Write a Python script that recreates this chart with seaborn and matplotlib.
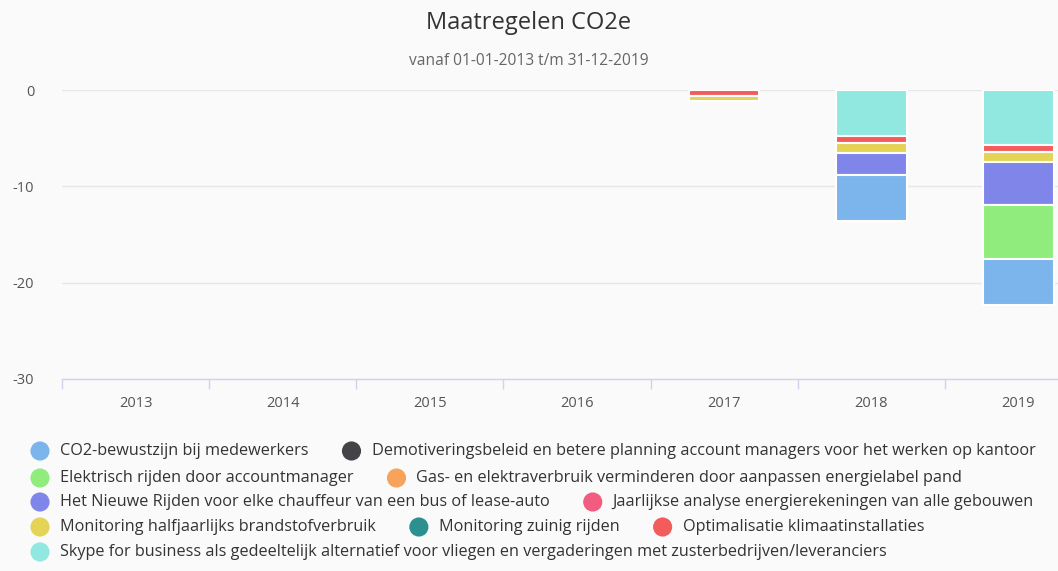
import matplotlib
matplotlib.use("Agg")
import matplotlib.pyplot as plt
import pandas as pd
import seaborn as sns

# Data
years = ["2013", "2014", "2015", "2016", "2017", "2018", "2019"]

series_names = [
    "CO2-bewustzijn bij medewerkers",
    "Demotiveringsbeleid en betere planning account managers voor het werken op kantoor",
    "Elektrisch rijden door accountmanager",
    "Gas- en elektraverbruik verminderen door aanpassen energielabel pand",
    "Het Nieuwe Rijden voor elke chauffeur van een bus of lease-auto",
    "Jaarlijkse analyse energierekeningen van alle gebouwen",
    "Monitoring halfjaarlijks brandstofverbruik",
    "Monitoring zuinig rijden",
    "Optimalisatie klimaatinstallaties",
    "Skype for business als gedeeltelijk alternatief voor vliegen en vergaderingen met zusterbedrijven/leveranciers",
]
series_colors = ["#7cb5ec", "#434348", "#90ed7d", "#f7a35c", "#8085e9",
                 "#f15c80", "#e4d354", "#2b908f", "#f45b5b", "#91e8e1"]

co2_bewustzijn = [0, 0, 0, 0, 0, -4.78, -4.85]
demotivering = [0, 0, 0, 0, 0, 0, 0]
elektrisch_rijden = [0, 0, 0, 0, 0, 0, -5.54]
gas_elektra = [0, 0, 0, 0, 0, 0, 0]
nieuwe_rijden = [0, 0, 0, 0, 0, -2.27, -4.50]
jaarlijkse_analyse = [0, 0, 0, 0, 0, 0, 0]
monitoring_brandstof = [0, 0, 0, 0, -0.51, -1.00, -1.00]
monitoring_zuinig = [0, 0, 0, 0, 0, 0, 0]
klimaatinstallaties = [0, 0, 0, 0, -0.66, -0.73, -0.74]
skype = [0, 0, 0, 0, 0, -4.82, -5.72]

series_values = [co2_bewustzijn, demotivering, elektrisch_rijden, gas_elektra,
                 nieuwe_rijden, jaarlijkse_analyse, monitoring_brandstof,
                 monitoring_zuinig, klimaatinstallaties, skype]

# legend rows (which series share a line)
legend_rows = [[0, 1], [2, 3], [4, 5], [6, 7, 8], [9]]

FONT = "Open Sans"
BG = "#fafafa"
W, H = 1058, 571

sns.set_style("white")
plt.rcParams["font.family"] = [FONT, "DejaVu Sans"]
plt.rcParams["axes.unicode_minus"] = False

fig = plt.figure(figsize=(W / 100, H / 100), dpi=100, facecolor=BG)
ax = fig.add_axes([62 / W, 1 - 379 / H, 1030 / W, 289 / H])
ax.set_facecolor(BG)

# stack from zero downwards: last series sits closest to 0
bottom = [0.0] * len(years)
for name, color, vals in reversed(list(zip(series_names, series_colors, series_values))):
    df = pd.DataFrame({"year": years, "value": vals, "bottom": bottom})
    df = df[df["value"] != 0]
    if len(df):
        sns.barplot(data=df, x="year", y="value", bottom=df["bottom"].tolist(),
                    color=color, width=0.48, edgecolor="white", linewidth=1.5,
                    saturation=1, ax=ax, order=years)
    bottom = [b + v for b, v in zip(bottom, vals)]

ax.set_xlim(-0.5, len(years) - 0.5)
ax.set_ylim(-30, 0)
ax.set_yticks([0, -10, -20, -30])
ax.yaxis.grid(True, color="#e6e6e6", linewidth=1)
ax.set_axisbelow(True)
for s in ["top", "right", "left"]:
    ax.spines[s].set_visible(False)
ax.spines["bottom"].set_color("#ccd6eb")
ax.spines["bottom"].set_linewidth(1)
ax.set_xlabel("")
ax.set_ylabel("")
ax.tick_params(axis="x", length=0, pad=12, labelsize=10.5, labelcolor="#555555")
ax.tick_params(axis="y", length=0, pad=20, labelsize=10.5, labelcolor="#555555")
ax.set_xticks([i + 0.5 for i in range(-1, len(years))], minor=True)
ax.tick_params(axis="x", which="minor", bottom=True, length=7.5,
               color="#ccd6eb", width=1)

fig.text(0.5, 1 - 23 / H, "Maatregelen CO2e", ha="center", va="center",
         fontsize=17, color="#333333")
fig.text(0.5, 1 - 61 / H, "vanaf 01-01-2013 t/m 31-12-2019", ha="center",
         va="center", fontsize=11.2, color="#666666")

# legend drawn in pixel coordinates
lax = fig.add_axes([0, 0, 1, 1])
lax.set_xlim(0, W)
lax.set_ylim(H, 0)
lax.axis("off")
renderer = fig.canvas.get_renderer()
row_y = [451, 478, 502, 527, 552]
for ry, row in zip(row_y, legend_rows):
    x = 40
    for idx in row:
        lax.scatter([x], [ry], s=190, color=series_colors[idx], edgecolors="none")
        t = lax.text(x + 20, ry, series_names[idx], ha="left", va="center",
                     fontsize=11.7, color="#333333")
        x = x + 20 + t.get_window_extent(renderer).width + 43

fig.savefig("out.png", dpi=100, facecolor=BG)
